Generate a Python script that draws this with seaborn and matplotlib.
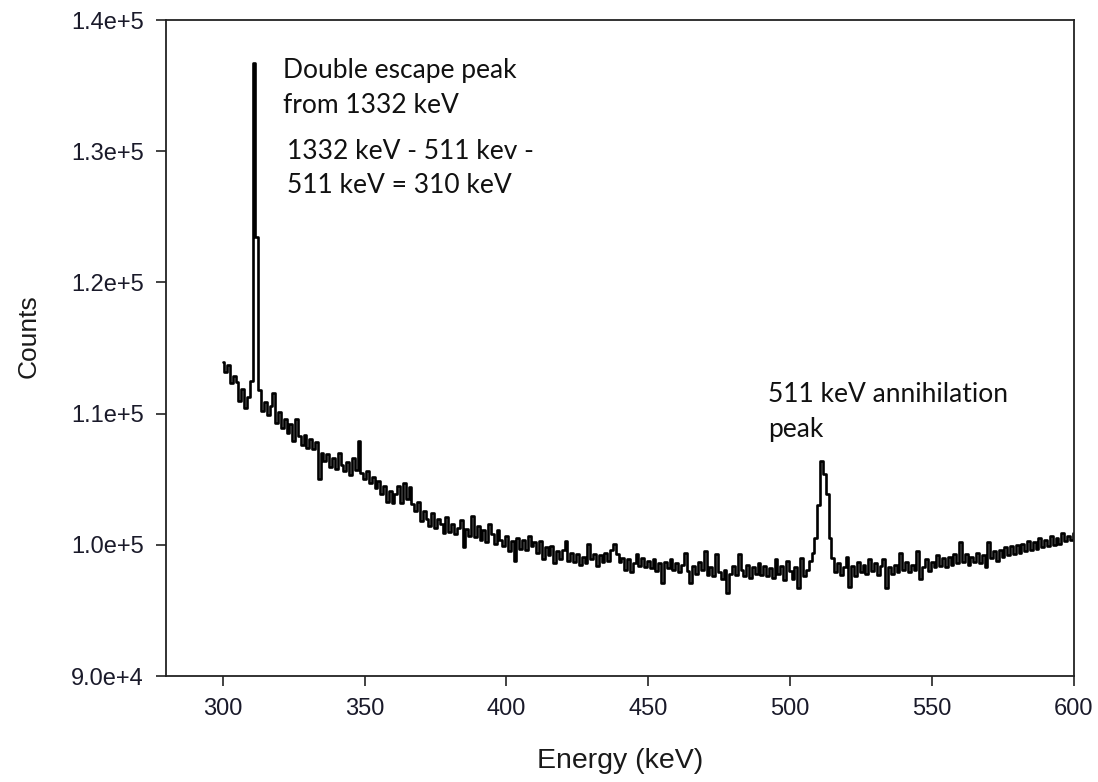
import numpy as np
import pandas as pd
import matplotlib
matplotlib.use("Agg")
import matplotlib.pyplot as plt
import seaborn as sns

# Gamma spectrum, 1 keV channels starting at 300 keV
start_kev = 300
counts = [
    113900, 113200, 113700, 112300, 112900, 112400, 111000, 111900, 110400, 111300,  # 300-309
    112500, 136700, 123500, 111800, 110200, 110900, 109900, 110600, 111600, 109300,  # 310-319
    110100, 108900, 109600, 108500, 109200, 107900, 109600, 108300, 107600, 108400,  # 320-329
    107400, 108100, 107300, 107800, 105000, 107000, 106400, 106900, 105900, 106600,  # 330-339
    105800, 107000, 106100, 105600, 106300, 105300, 106600, 105700, 107900, 105500,  # 340-349
    105000, 105600, 104700, 105200, 104300, 104900, 103900, 104500, 103300, 104100,  # 350-359
    103200, 103900, 104500, 103200, 104700, 103500, 104400, 103100, 102600, 103300,  # 360-369
    101800, 102600, 102000, 101400, 102400, 101300, 102000, 101600, 100900, 102100,  # 370-379
    101000, 101600, 100800, 101300, 101900, 99800, 101200, 100700, 102200, 100600,   # 380-389
    101400, 100400, 101100, 100200, 101600, 100800, 100100, 101100, 100400, 99900,   # 390-399
    100700, 99500, 100300, 98800, 100500, 99700, 100400, 99600, 100700, 99900,       # 400-409
    100200, 99400, 100300, 98900, 99800, 99200, 99900, 98600, 99500, 98900,          # 410-419
    99600, 100300, 98800, 99400, 98700, 99300, 98500, 99100, 98600, 100100,          # 420-429
    98900, 99300, 98400, 99200, 98700, 99400, 98800, 99600, 100100, 99300,           # 430-439
    98700, 99000, 98100, 98900, 97900, 98600, 99300, 98400, 99000, 98300,            # 440-449
    98800, 98200, 98900, 98000, 98600, 97100, 98700, 98200, 98900, 98100,            # 450-459
    98600, 97900, 98500, 99400, 98000, 97100, 98400, 97800, 98700, 98100,            # 460-469
    99500, 97700, 98300, 97600, 99300, 97900, 97400, 98100, 96300, 97800,            # 470-479
    98400, 97700, 99300, 98100, 97600, 98500, 97500, 98300, 97800, 98600,            # 480-489
    97700, 98400, 97600, 98200, 97500, 98900, 97800, 98400, 97300, 98800,            # 490-499
    98000, 97400, 98300, 96700, 99000, 97600, 98100, 98800, 99400, 100500,           # 500-509
    103000, 106400, 105400, 103900, 100500, 99000, 97900, 98600, 97700, 98300,       # 510-519
    99100, 96800, 98400, 97600, 98700, 97900, 98500, 97800, 98900, 98000,            # 520-529
    98600, 97700, 98400, 98900, 96700, 98300, 97800, 98500, 97900, 99400,            # 530-539
    98100, 98700, 97900, 98500, 98100, 99500, 97400, 98300, 98900, 98000,            # 540-549
    98700, 98300, 99200, 98400, 99000, 98300, 99100, 98500, 99300, 98600,            # 550-559
    100200, 98700, 99300, 98500, 99100, 98700, 99400, 98600, 99200, 98300,           # 560-569
    100200, 99000, 99500, 98800, 99600, 99100, 99800, 99200, 99900, 99300,           # 570-579
    100000, 99400, 100100, 99500, 100300, 99600, 100200, 99700, 100500, 99800,       # 580-589
    100400, 99900, 100700, 100000, 100500, 100100, 100900, 100300, 100700, 100400,   # 590-599
    100900,                                                                          # 600
]
energy = start_kev + np.arange(len(counts))

x_ticks = [300, 350, 400, 450, 500, 550, 600]
y_ticks = [90000, 100000, 110000, 120000, 130000, 140000]
y_tick_labels = ["9.0e+4", "1.0e+5", "1.1e+5", "1.2e+5", "1.3e+5", "1.4e+5"]

df = pd.DataFrame({"Energy (keV)": energy, "Counts": counts})

sns.set_style("ticks")
plt.rcParams["font.family"] = ["Liberation Sans", "DejaVu Sans"]

fig = plt.figure(figsize=(10.98, 7.82), dpi=100)
ax = fig.add_axes([0.1512, 0.1355, 0.8269, 0.8389])

sns.lineplot(data=df, x="Energy (keV)", y="Counts", ax=ax, color="black",
             linewidth=1.9, drawstyle="steps-mid", estimator=None)

ax.set_xlim(280, 600)
ax.set_ylim(90000, 140000)
ax.set_xticks(x_ticks)
ax.set_xticklabels([str(t) for t in x_ticks])
ax.set_yticks(y_ticks)
ax.set_yticklabels(y_tick_labels)

for side in ["left", "right", "top", "bottom"]:
    ax.spines[side].set_visible(True)
    ax.spines[side].set_color("#222222")
    ax.spines[side].set_linewidth(1.3)

ax.tick_params(axis="both", direction="out", length=7, width=1.2,
               color="#222222", labelsize=17, labelcolor="#1a1a2a", pad=9)

ax.set_xlabel("Energy (keV)", fontsize=20.5, labelpad=20, color="#1a1a1a")
ax.set_ylabel("Counts", fontsize=19, labelpad=16, color="#1a1a1a")
ax.yaxis.set_label_coords(-0.138, 0.518)

note_kw = dict(family=["Lato", "DejaVu Sans"], fontsize=19, color="#111111",
               ha="left", va="baseline")
ax.text(321.1, 135580, "Double escape peak", **note_kw)
ax.text(321.1, 132910, "from 1332 keV", **note_kw)
ax.text(322.5, 129440, "1332 keV - 511 kev -", **note_kw)
ax.text(322.5, 126810, "511 keV = 310 keV", **note_kw)
ax.text(492.1, 110880, "511 keV annihilation", **note_kw)
ax.text(492.1, 108220, "peak", **note_kw)

fig.savefig("out.png", dpi=100)
